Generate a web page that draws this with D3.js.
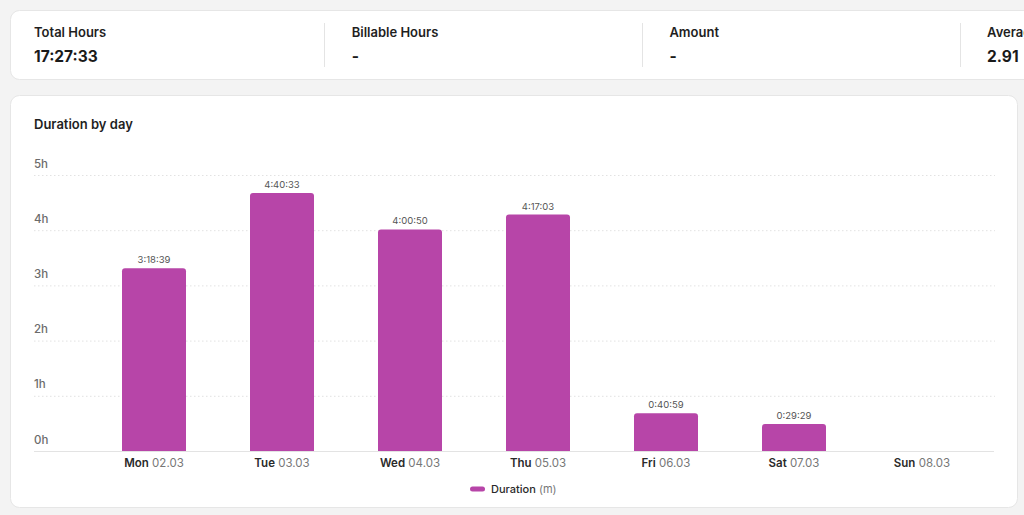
<!DOCTYPE html>
<html>
<head>
<meta charset="utf-8">
<script src="https://cdn.jsdelivr.net/npm/d3@7"></script>
<style>
  html, body { margin: 0; padding: 0; background: #f3f3f3; overflow: hidden; }
  body { width: 1024px; height: 515px; font-family: Inter, "Noto Sans", sans-serif; }
</style>
</head>
<body>
<svg id="chart" width="1024" height="515"></svg>
<script>
// ---- data ----
const statLabels = ["Total Hours", "Billable Hours", "Amount", "Average Daily Hours"];
const statValues = ["17:27:33", "-", "-", "2.91"];
const dayNames = ["Mon", "Tue", "Wed", "Thu", "Fri", "Sat", "Sun"];
const dayDates = ["02.03", "03.03", "04.03", "05.03", "06.03", "07.03", "08.03"];
const durations = ["3:18:39", "4:40:33", "4:00:50", "4:17:03", "0:40:59", "0:29:29", "0:00:00"];
const yTicks = [0, 1, 2, 3, 4, 5];
const chartTitle = "Duration by day";
const seriesName = "Duration";
const seriesUnit = "(m)";
const barColor = "#b745a8";

const toHours = s => { const p = s.split(":").map(Number); return p[0] + p[1] / 60 + p[2] / 3600; };
const data = dayNames.map((d, i) => ({ day: d, date: dayDates[i], label: durations[i], hours: toHours(durations[i]) }));

const svg = d3.select("#chart");

// ---- stats card ----
svg.append("rect").attr("x", 10.5).attr("y", 10.5).attr("width", 1040).attr("height", 69)
  .attr("rx", 9).attr("fill", "#fff").attr("stroke", "#e6e6e6");
const colX = d3.scaleLinear().domain([0, 1]).range([34, 352]);
statLabels.forEach((l, i) => {
  const x = colX(i) - (i > 0 ? 0.5 * 0 : 0);
  const g = svg.append("g");
  g.append("text").attr("x", 34 + i * 317.7).attr("y", 37).attr("font-size", 13).attr("font-weight", 600)
    .attr("fill", "#1f1f1f").text(l);
  g.append("text").attr("x", 34 + i * 317.7).attr("y", 62).attr("font-size", 15.5).attr("font-weight", 700)
    .attr("fill", "#1a1a1a").text(statValues[i]);
  if (i > 0) {
    g.append("line").attr("x1", 324.5 + (i - 1) * 318).attr("x2", 324.5 + (i - 1) * 318)
      .attr("y1", 23).attr("y2", 67).attr("stroke", "#e4e4e4");
  }
});

// ---- chart card ----
svg.append("rect").attr("x", 10.5).attr("y", 95.5).attr("width", 1007).attr("height", 412)
  .attr("rx", 9).attr("fill", "#fff").attr("stroke", "#e6e6e6");
svg.append("text").attr("x", 34).attr("y", 129).attr("font-size", 13).attr("font-weight", 600)
  .attr("fill", "#1f1f1f").text(chartTitle);

const x = d3.scaleBand().domain(dayNames).range([90, 986]).paddingInner(0.5).paddingOuter(0.25);
const y = d3.scaleLinear().domain([0, 5]).range([451, 175]);

// gridlines + y labels
const grid = svg.append("g");
yTicks.forEach(t => {
  if (t > 0) {
    grid.append("line").attr("x1", 34).attr("x2", 995).attr("y1", y(t) + 0.5).attr("y2", y(t) + 0.5)
      .attr("stroke", "#e2e2e2").attr("stroke-dasharray", "1.5,2.5");
  }
  grid.append("text").attr("x", 34).attr("y", y(t) - 7.5).attr("font-size", 11.5).attr("font-weight", 500)
    .attr("fill", "#6b6b6b").text(t + "h");
});

// bars (rounded top)
const barPath = d => {
  const x0 = x(d.day), w = x.bandwidth(), y0 = y(0), y1 = y(d.hours), r = Math.min(3, (y0 - y1) / 2);
  if (y0 - y1 <= 0) return "";
  return `M${x0},${y0}V${y1 + r}Q${x0},${y1} ${x0 + r},${y1}H${x0 + w - r}Q${x0 + w},${y1} ${x0 + w},${y1 + r}V${y0}Z`;
};
svg.append("g").selectAll("path").data(data).join("path")
  .attr("d", barPath).attr("fill", barColor);

// value labels
svg.append("g").selectAll("text").data(data.filter(d => d.hours > 0)).join("text")
  .attr("x", d => x(d.day) + x.bandwidth() / 2).attr("y", d => y(d.hours) - 5)
  .attr("text-anchor", "middle").attr("font-size", 9.5).attr("fill", "#555")
  .text(d => d.label);

// baseline
svg.append("line").attr("x1", 34).attr("x2", 994).attr("y1", 451.5).attr("y2", 451.5)
  .attr("stroke", "#e3e3e3").attr("stroke-width", 1.2);

// x labels
const xl = svg.append("g").selectAll("text").data(data).join("text")
  .attr("x", d => x(d.day) + x.bandwidth() / 2).attr("y", 466.5)
  .attr("text-anchor", "middle").attr("font-size", 11.5);
xl.append("tspan").attr("font-weight", 600).attr("fill", "#2a2a2a").text(d => d.day);
xl.append("tspan").attr("fill", "#777").text(d => " " + d.date);

// legend
const lg = svg.append("g");
lg.append("rect").attr("x", 470).attr("y", 486.5).attr("width", 15).attr("height", 5).attr("rx", 2.5).attr("fill", barColor);
const lt = lg.append("text").attr("x", 491).attr("y", 493).attr("font-size", 11);
lt.append("tspan").attr("font-weight", 500).attr("fill", "#2a2a2a").text(seriesName);
lt.append("tspan").attr("fill", "#777").text(" " + seriesUnit);
</script>
</body>
</html>
